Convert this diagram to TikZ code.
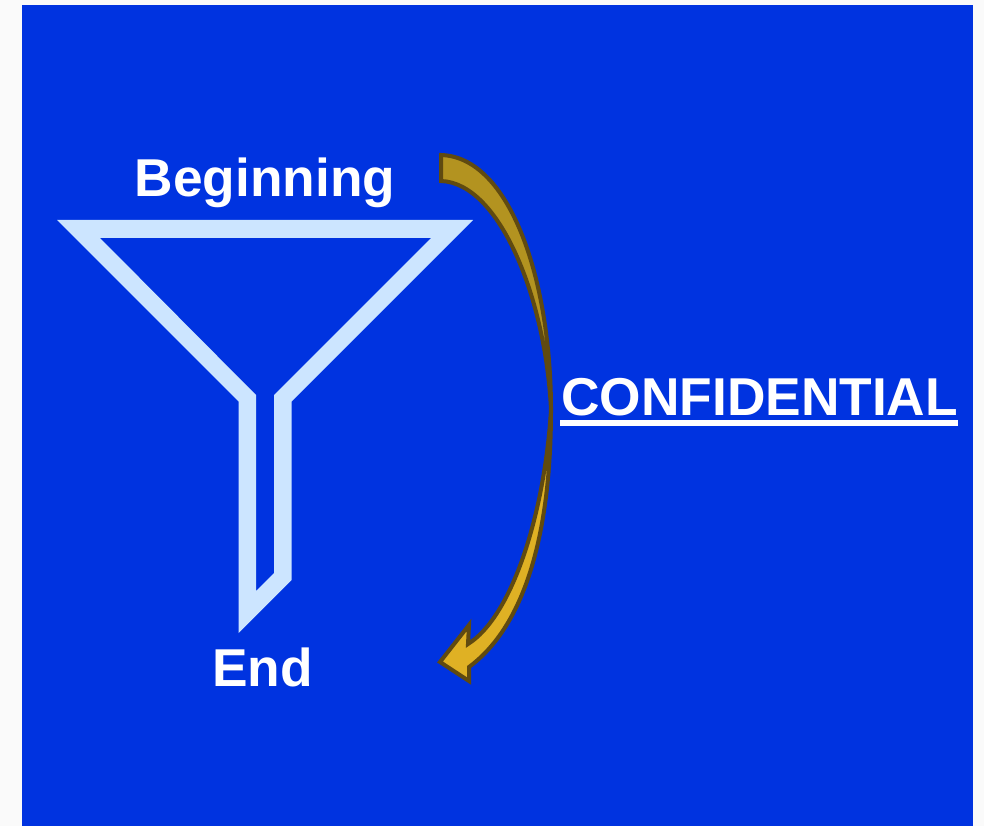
\documentclass[tikz,border=0pt]{standalone}
\usepackage{fontspec}
\setmainfont{Liberation Sans}
\usepackage{xcolor}
\usetikzlibrary{positioning, calc}

\definecolor{panelblue}{HTML}{0033E0}
\definecolor{funnelblue}{HTML}{CCE5FF}
\definecolor{arrowdark}{HTML}{B39320}
\definecolor{arrowlight}{HTML}{DFB124}
\definecolor{arrowedge}{HTML}{604A10}

\begin{document}
\begin{tikzpicture}[
    x=1pt, y=-1pt,
    lbl/.style={text=white, inner sep=0pt, font=\bfseries\fontsize{53.3}{53.3}\selectfont},
    edge/.style={draw=arrowedge, line width=4pt, line join=miter},
]
\useasboundingbox (0,0) rectangle (984,826);

% Panel
\fill[white!98!black] (0,0) rectangle (984,826);
\fill[panelblue] (22,5) rectangle (973,826);

% Funnel
\fill[funnelblue, even odd rule]
  (57,220) -- (473,220) -- (291.5,401.5) -- (291.5,580) -- (238.5,633) -- (238.5,401.5) -- cycle
  (100,238) -- (431,238) -- (274,395) -- (274,573) -- (256,591) -- (256,395) -- cycle;

% Labels
\node[lbl, anchor=base] (beginning) at (265,197) {Beginning};
\node[lbl, anchor=base] (end) at (262.5,686) {End};
\node[lbl, anchor=base west] (confidential) at (561,415) {CONFIDENTIAL};
\fill[white] (560,420) rectangle (958,426);

% Curved arrow, upper half
\path[edge, fill=arrowdark] (441,155) .. controls (510,157) and (551,280) .. (551,410)
  .. controls (546,300) and (500,183) .. (441,181) -- cycle;

% Curved arrow, lower half
\path[edge, fill=arrowlight] (551,410) .. controls (551,520) and (530,622) .. (469,667)
  -- (469,681) -- (440,662) -- (469,625) -- (468,644)
  .. controls (510,618) and (544,520) .. (551,410) -- cycle;

\end{tikzpicture}
\end{document}
